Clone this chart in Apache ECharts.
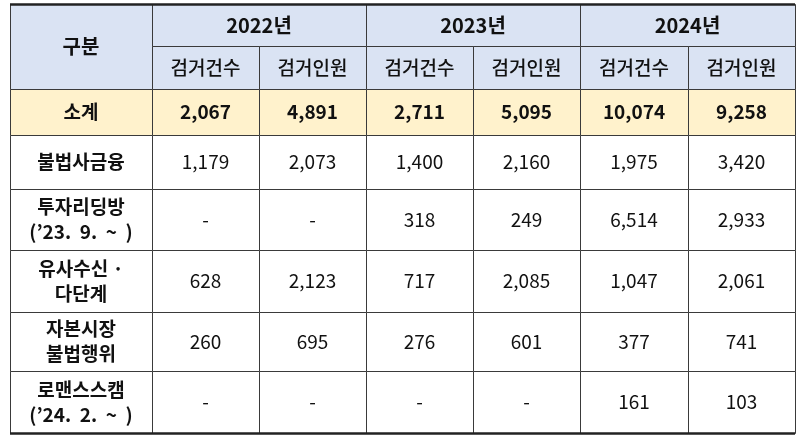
<!DOCTYPE html>
<html>
<head>
<meta charset="utf-8">
<style>
  html,body{margin:0;padding:0;background:#fff;}
  #main{width:800px;height:436px;}
</style>
<script src="https://cdn.jsdelivr.net/npm/echarts@6/dist/echarts.min.js"></script>
</head>
<body>
<div id="main"></div>
<script>
// data
var years = ['2022년', '2023년', '2024년'];
var metrics = ['검거건수', '검거인원'];
var rowNames = ['소계', '불법사금융', '투자리딩방\n(’23.  9.  ~  )', '유사수신 ·\n다단계', '자본시장\n불법행위', '로맨스스캠\n(’24.  2.  ~  )'];
var rowValues = [
  ['2,067', '4,891', '2,711', '5,095', '10,074', '9,258'],
  ['1,179', '2,073', '1,400', '2,160', '1,975', '3,420'],
  ['-', '-', '318', '249', '6,514', '2,933'],
  ['628', '2,123', '717', '2,085', '1,047', '2,061'],
  ['260', '695', '276', '601', '377', '741'],
  ['-', '-', '-', '-', '161', '103']
];

// layout (pixel edges)
var colEdges = [10, 152, 259, 366, 473, 580, 688, 795];
var rowEdges = [4, 46, 89, 135, 189, 250, 312, 371, 433];
var headBg = '#dae3f3', sumBg = '#fff2cc';

var cells = [];
function cell(c0, c1, r0, r1, text, font, fill) {
  cells.push([colEdges[c0], rowEdges[r0], colEdges[c1], rowEdges[r1], text, font, fill]);
}
var F = '"Noto Sans CJK KR"';
cell(0, 1, 0, 2, '구분', 'bold 20px ' + F, headBg);
years.forEach(function (y, i) {
  cell(1 + i * 2, 3 + i * 2, 0, 1, y, 'bold 20px ' + F, headBg);
  metrics.forEach(function (m, j) {
    cell(1 + i * 2 + j, 2 + i * 2 + j, 1, 2, m, '500 19px ' + F, headBg);
  });
});
rowNames.forEach(function (n, r) {
  var fill = r === 0 ? sumBg : '#fff';
  cell(0, 1, r + 2, r + 3, n, 'bold 19px ' + F, fill);
  rowValues[r].forEach(function (v, c) {
    cell(c + 1, c + 2, r + 2, r + 3, v, (r === 0 ? 'bold ' : '') + '19px ' + F, fill);
  });
});

var myChart = echarts.init(document.getElementById('main'));
myChart.setOption({
  animation: false,
  grid: {left: 0, right: 0, top: 0, bottom: 0},
  xAxis: {type: 'value', min: 0, max: 800, show: false},
  yAxis: {type: 'value', min: 0, max: 436, inverse: true, show: false},
  series: [{
    type: 'custom',
    data: cells,
    renderItem: function (params, api) {
      var d = cells[params.dataIndex];
      var p0 = api.coord([d[0], d[1]]), p1 = api.coord([d[2], d[3]]);
      var w = p1[0] - p0[0], h = p1[1] - p0[1];
      return {
        type: 'group',
        children: [{
          type: 'rect',
          shape: {x: p0[0] + 0.5, y: p0[1] + 0.5, width: w, height: h},
          style: {fill: d[6], stroke: '#3a3a3a', lineWidth: 1}
        }, {
          type: 'text',
          x: p0[0] + w / 2, y: p0[1] + h / 2,
          style: {
            text: d[4], fill: '#111', align: 'center', verticalAlign: 'middle',
            font: d[5], lineHeight: 25
          }
        }]
      };
    }
  }, {
    type: 'custom',
    data: [[colEdges[0], rowEdges[0], colEdges[7]], [colEdges[0], rowEdges[8], colEdges[7]]],
    renderItem: function (params, api) {
      var a = api.coord([api.value(0), api.value(1)]), b = api.coord([api.value(2), api.value(1)]);
      return {type: 'line', shape: {x1: a[0], y1: a[1] + 0.5, x2: b[0], y2: b[1] + 0.5}, style: {stroke: '#222', lineWidth: 2.5}};
    }
  }]
});
</script>
</body>
</html>
